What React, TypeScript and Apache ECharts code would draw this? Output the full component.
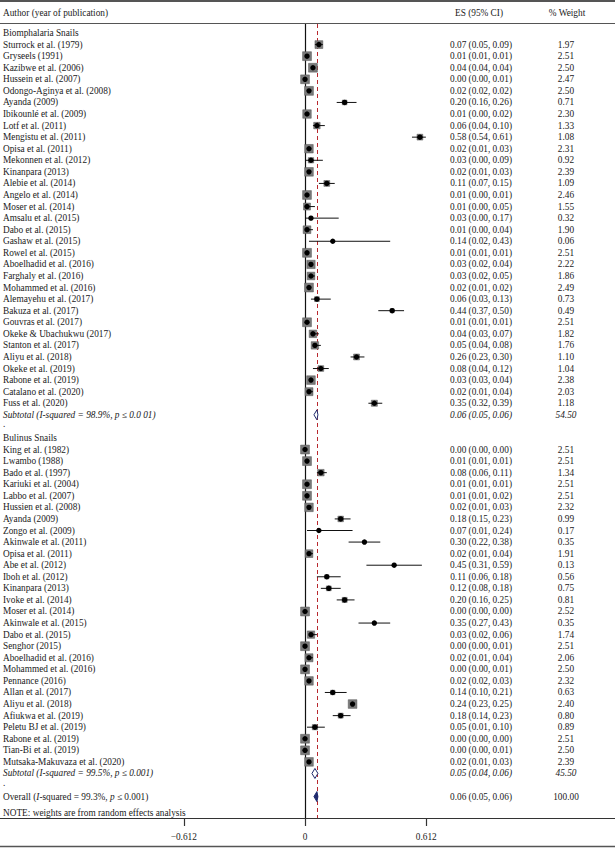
import React, { useEffect, useRef } from "react";
import * as echarts from "echarts";

const groupNames = ["Biomphalaria Snails", "Bulinus Snails"];

const biomStudies = [
  "Sturrock et al. (1979)", "Gryseels (1991)", "Kazibwe et al. (2006)", "Hussein et al. (2007)",
  "Odongo-Aginya et al. (2008)", "Ayanda (2009)", "Ibikounlé et al. (2009)", "Lotf et al. (2011)",
  "Mengistu et al. (2011)", "Opisa et al. (2011)", "Mekonnen et al. (2012)", "Kinanpara (2013)",
  "Alebie et al. (2014)", "Angelo et al. (2014)", "Moser et al. (2014)", "Amsalu et al. (2015)",
  "Dabo et al. (2015)", "Gashaw et al. (2015)", "Rowel et al. (2015)", "Aboelhadid et al. (2016)",
  "Farghaly et al. (2016)", "Mohammed et al. (2016)", "Alemayehu et al. (2017)", "Bakuza et al. (2017)",
  "Gouvras et al. (2017)", "Okeke & Ubachukwu (2017)", "Stanton et al. (2017)", "Aliyu et al. (2018)",
  "Okeke et al. (2019)", "Rabone et al. (2019)", "Catalano et al. (2020)", "Fuss et al. (2020)",
];
const biomES = [0.07, 0.01, 0.04, 0.0, 0.02, 0.2, 0.01, 0.06, 0.58, 0.02, 0.03, 0.02, 0.11, 0.01, 0.01, 0.03, 0.01, 0.14, 0.01, 0.03, 0.03, 0.02, 0.06, 0.44, 0.01, 0.04, 0.05, 0.26, 0.08, 0.03, 0.02, 0.35];
const biomLo = [0.05, 0.01, 0.04, 0.0, 0.02, 0.16, 0.0, 0.04, 0.54, 0.01, 0.0, 0.01, 0.07, 0.0, 0.0, 0.0, 0.0, 0.02, 0.01, 0.02, 0.02, 0.01, 0.03, 0.37, 0.01, 0.03, 0.04, 0.23, 0.04, 0.03, 0.01, 0.32];
const biomHi = [0.09, 0.01, 0.04, 0.01, 0.02, 0.26, 0.02, 0.1, 0.61, 0.03, 0.09, 0.03, 0.15, 0.01, 0.05, 0.17, 0.04, 0.43, 0.01, 0.04, 0.05, 0.02, 0.13, 0.5, 0.01, 0.07, 0.08, 0.3, 0.12, 0.04, 0.04, 0.39];
const biomWeight = [1.97, 2.51, 2.5, 2.47, 2.5, 0.71, 2.3, 1.33, 1.08, 2.31, 0.92, 2.39, 1.09, 2.46, 1.55, 0.32, 1.9, 0.06, 2.51, 2.22, 1.86, 2.49, 0.73, 0.49, 2.51, 1.82, 1.76, 1.1, 1.04, 2.38, 2.03, 1.18];

const bulStudies = [
  "King et al. (1982)", "Lwambo (1988)", "Bado et al. (1997)", "Kariuki et al. (2004)",
  "Labbo et al. (2007)", "Hussien et al. (2008)", "Ayanda (2009)", "Zongo et al. (2009)",
  "Akinwale et al. (2011)", "Opisa et al. (2011)", "Abe et al. (2012)", "Iboh et al. (2012)",
  "Kinanpara (2013)", "Ivoke et al. (2014)", "Moser et al. (2014)", "Akinwale et al. (2015)",
  "Dabo et al. (2015)", "Senghor (2015)", "Aboelhadid et al. (2016)", "Mohammed et al. (2016)",
  "Pennance (2016)", "Allan et al. (2017)", "Aliyu et al. (2018)", "Afiukwa et al. (2019)",
  "Peletu BJ et al. (2019)", "Rabone et al. (2019)", "Tian-Bi et al. (2019)", "Mutsaka-Makuvaza et al. (2020)",
];
const bulES = [0.0, 0.01, 0.08, 0.01, 0.01, 0.02, 0.18, 0.07, 0.3, 0.02, 0.45, 0.11, 0.12, 0.2, 0.0, 0.35, 0.03, 0.0, 0.02, 0.0, 0.02, 0.14, 0.24, 0.18, 0.05, 0.0, 0.0, 0.02];
const bulLo = [0.0, 0.01, 0.06, 0.01, 0.01, 0.01, 0.15, 0.01, 0.22, 0.01, 0.31, 0.06, 0.08, 0.16, 0.0, 0.27, 0.02, 0.0, 0.01, 0.0, 0.02, 0.1, 0.23, 0.14, 0.01, 0.0, 0.0, 0.01];
const bulHi = [0.0, 0.01, 0.11, 0.01, 0.02, 0.03, 0.23, 0.24, 0.38, 0.04, 0.59, 0.18, 0.18, 0.25, 0.0, 0.43, 0.06, 0.01, 0.04, 0.01, 0.03, 0.21, 0.25, 0.23, 0.1, 0.0, 0.01, 0.03];
const bulWeight = [2.51, 2.51, 1.34, 2.51, 2.51, 2.32, 0.99, 0.17, 0.35, 1.91, 0.13, 0.56, 0.75, 0.81, 2.52, 0.35, 1.74, 2.51, 2.06, 2.5, 2.32, 0.63, 2.4, 0.8, 0.89, 2.51, 2.5, 2.39];

const subtotalLabels = ["Subtotal (I-squared = 98.9%, p ≤ 0.0 01)", "Subtotal (I-squared = 99.5%, p ≤ 0.001)"];
const subtotalES = [0.06, 0.05];
const subtotalLo = [0.05, 0.04];
const subtotalHi = [0.06, 0.06];
const subtotalWeight = [54.5, 45.5];

const overallLabel = "Overall (I-squared = 99.3%, p ≤ 0.001)";
const overallES = 0.06;
const overallLo = 0.05;
const overallHi = 0.06;
const overallWeight = 100.0;

const noteText = "NOTE: weights are from random effects analysis";
const tickValues = [-0.612, 0, 0.612];

type Row = { kind: string; label: string; pos: number; es?: number; lo?: number; hi?: number; w?: number };

function buildRows(): Row[] {
  const rows: Row[] = [];
  let p = 0;
  const groups = [
    { s: biomStudies, e: biomES, l: biomLo, h: biomHi, w: biomWeight },
    { s: bulStudies, e: bulES, l: bulLo, h: bulHi, w: bulWeight },
  ];
  groups.forEach((g, gi) => {
    rows.push({ kind: "group", label: groupNames[gi], pos: p++ });
    g.s.forEach((name, i) => {
      rows.push({ kind: "study", label: name, pos: p++, es: g.e[i], lo: g.l[i], hi: g.h[i], w: g.w[i] });
    });
    rows.push({ kind: "subtotal", label: subtotalLabels[gi], pos: p++, es: subtotalES[gi], lo: subtotalLo[gi], hi: subtotalHi[gi], w: subtotalWeight[gi] });
    rows.push({ kind: "blank", label: ".", pos: p++ });
  });
  rows.push({ kind: "overall", label: overallLabel, pos: p++, es: overallES, lo: overallLo, hi: overallHi, w: overallWeight });
  rows.push({ kind: "note", label: noteText, pos: p + 0.45 });
  return rows;
}

const FONT = '"Liberation Serif", "DejaVu Serif", serif';
const FS = 9.3;
const TXT = "#1a1a1a";
const NAVY = "#1f2b6e";
const X_AUTHOR = 3;
const X_ES = 481;
const X_W = 566;

export default function App() {
  const ref = useRef<HTMLDivElement>(null);
  useEffect(() => {
    const chart = echarts.init(ref.current!, null, { renderer: "svg" });
    const rows = buildRows();
    const kindCode: Record<string, number> = { study: 0, subtotal: 1, overall: 2 };
    const markRows = rows.filter((r) => r.es !== undefined);

    const fmtES = (r: Row) => `${r.es!.toFixed(2)} (${r.lo!.toFixed(2)}, ${r.hi!.toFixed(2)})`;

    const option: any = {
      animation: false,
      backgroundColor: "#fff",
      grid: { left: 0, right: 0, top: 24, bottom: 30 },
      xAxis: {
        type: "value",
        min: -1.54,
        max: 1.565,
        splitLine: { show: false },
        axisLine: { show: true, onZero: false, lineStyle: { color: "#333", width: 1.2 } },
        axisTick: { show: true, customValues: tickValues, length: 8, inside: false, lineStyle: { color: "#333", width: 1.2 } },
        axisLabel: {
          customValues: tickValues,
          margin: 14,
          fontFamily: FONT,
          fontSize: FS,
          color: TXT,
          formatter: (v: number) => (v < 0 ? "\u2212" + Math.abs(v).toFixed(3) : v === 0 ? "0" : v.toFixed(3)),
        },
      },
      yAxis: { type: "value", inverse: true, min: -0.78, max: 67.85, show: false },
      graphic: [
        { type: "line", shape: { x1: 0, y1: 1, x2: 615, y2: 1 }, style: { stroke: "#555", lineWidth: 2 } },
        { type: "line", shape: { x1: 0, y1: 23.5, x2: 615, y2: 23.5 }, style: { stroke: "#555", lineWidth: 1.2 } },
        { type: "line", shape: { x1: 0, y1: 846.5, x2: 615, y2: 846.5 }, style: { stroke: "#555", lineWidth: 1.5 } },
        { type: "text", x: X_AUTHOR, y: 13, style: { text: "Author (year of publication)", font: `${FS}px ${FONT}`, fill: TXT, textAlign: "left", textVerticalAlign: "middle" } },
        { type: "text", x: X_ES - 2, y: 13, style: { text: "ES (95% CI)", font: `${FS}px ${FONT}`, fill: TXT, textAlign: "center", textVerticalAlign: "middle" } },
        { type: "text", x: X_W + 1, y: 13, style: { text: "% Weight", font: `${FS}px ${FONT}`, fill: TXT, textAlign: "center", textVerticalAlign: "middle" } },
      ],
      series: [
        {
          type: "custom",
          name: "text",
          z: 2,
          clip: false,
          data: rows.map((r) => [0, r.pos]),
          encode: { x: 0, y: 1 },
          renderItem: (params: any, api: any) => {
            const r = rows[params.dataIndex];
            const y = api.coord([0, api.value(1)])[1];
            const italic = r.kind === "subtotal" ? "italic" : "normal";
            const children: any[] = [];
            const base = { fill: TXT, fontFamily: FONT, fontSize: FS, verticalAlign: "middle" };
            if (r.kind === "overall") {
              children.push({
                type: "text",
                x: X_AUTHOR,
                y,
                style: {
                  ...base,
                  align: "left",
                  text: "Overall ({i|I}-squared = 99.3%, {i|p} \u2264 0.001)",
                  rich: { i: { fontStyle: "italic", fontFamily: FONT, fontSize: FS, fill: TXT } },
                },
              });
            } else {
              children.push({
                type: "text",
                x: X_AUTHOR,
                y: r.kind === "blank" ? y - 2 : y,
                style: { ...base, align: "left", fontStyle: italic, text: r.label },
              });
            }
            if (r.es !== undefined) {
              children.push({ type: "text", x: X_ES, y, style: { ...base, align: "center", fontStyle: italic, text: fmtES(r) } });
              children.push({ type: "text", x: X_W, y, style: { ...base, align: "center", fontStyle: italic, text: r.w!.toFixed(2) } });
            }
            return { type: "group", children };
          },
          markLine: {
            silent: true,
            symbol: "none",
            label: { show: false },
            data: [
              { xAxis: 0, lineStyle: { color: "#111", type: "solid", width: 1.2 } },
              { xAxis: overallES, lineStyle: { color: "#b8282e", type: [4, 3], width: 1 } },
            ],
          },
        },
        {
          type: "custom",
          name: "marks",
          z: 5,
          clip: false,
          data: markRows.map((r) => [r.es, r.pos, r.lo, r.hi, r.w, kindCode[r.kind]]),
          encode: { x: [0, 2, 3], y: 1 },
          renderItem: (params: any, api: any) => {
            const es = api.value(0);
            const pos = api.value(1);
            const lo = api.value(2);
            const hi = api.value(3);
            const w = api.value(4);
            const k = api.value(5);
            const [cx, cy] = api.coord([es, pos]);
            const xl = api.coord([lo, pos])[0];
            const xh = api.coord([hi, pos])[0];
            if (k === 0) {
              const s = 5.6 * Math.sqrt(w);
              return {
                type: "group",
                children: [
                  { type: "rect", shape: { x: cx - s / 2, y: cy - s / 2, width: s, height: s }, style: { fill: "#7a7a7a", stroke: "#555", lineWidth: 0.5 } },
                  { type: "line", shape: { x1: xl, y1: cy, x2: xh, y2: cy }, style: { stroke: "#111", lineWidth: 1 } },
                  { type: "circle", shape: { cx, cy, r: 2.7 }, style: { fill: "#000" } },
                ],
              };
            }
            return {
              type: "polygon",
              shape: { points: [[xl - 1, cy], [cx, cy - 5], [xh + 1, cy], [cx, cy + 5]] },
              style: { fill: k === 2 ? NAVY : "#fff", stroke: NAVY, lineWidth: 1 },
            };
          },
        },
      ],
    };
    chart.setOption(option);
    return () => chart.dispose();
  }, []);
  return <div ref={ref} style={{ position: "fixed", left: 0, top: 0, width: 615, height: 848, background: "#fff" }} />;
}
